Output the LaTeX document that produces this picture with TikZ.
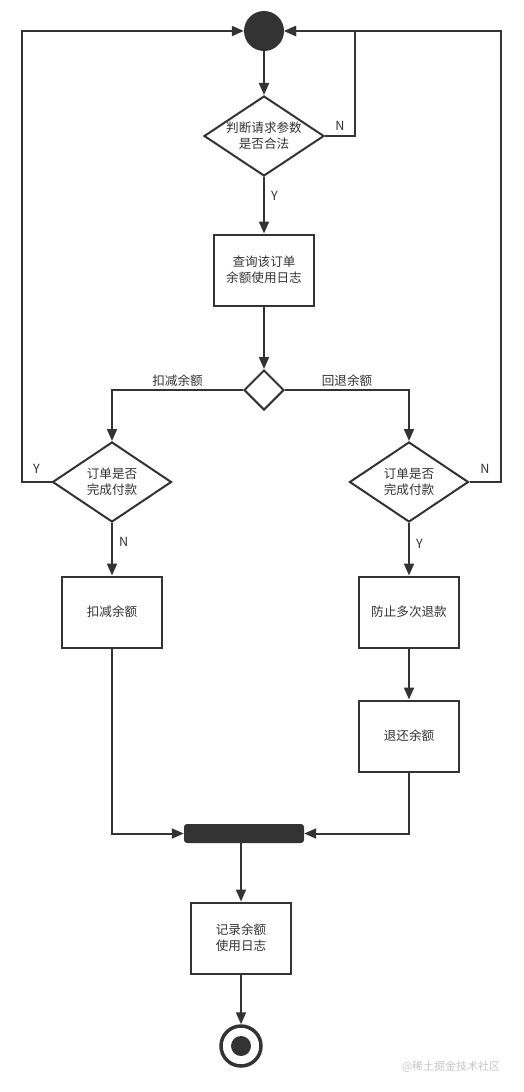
\documentclass[tikz,border=0pt]{standalone}
\usepackage{fontspec}
\setmainfont{Noto Sans CJK SC}
\usetikzlibrary{arrows.meta,shapes.geometric}
\definecolor{ink}{HTML}{333333}

\begin{document}
\begin{tikzpicture}[
x=1pt, y=-1pt,
font=\fontsize{12.6}{16}\selectfont,
flow/.style={draw=ink, line width=2pt, -{Triangle[length=12pt,width=10pt]}},
activity/.style={draw=ink, line width=2pt, minimum width=100pt, minimum height=71pt, align=center, text=ink},
decision/.style={diamond, draw=ink, line width=2pt, inner sep=0pt, minimum width=120pt, minimum height=80pt},
tag/.style={text=ink, inner sep=2pt}
]
    % frame
    \useasboundingbox (0,0) rectangle (524,1092);

    % start and first check
    \node (start) [circle, fill=ink, minimum size=40pt, inner sep=0pt] at (264,31) {};
    \node (check) [decision, label={[tag, align=center]center:{判断请求参数\\是否合法}}] at (264,136) {};
    \node (query) [activity] at (264,270) {查询该订单\\余额使用日志};
    \node (split) [diamond, draw=ink, line width=2pt, minimum width=40pt, minimum height=40pt, inner sep=0pt] at (264,390) {};

    % the two branches
    \node (leftpay) [decision, minimum width=119pt, label={[tag, align=center]center:{订单是否\\完成付款}}] at (112,482) {};
    \node (rightpay) [decision, minimum width=119pt, label={[tag, align=center]center:{订单是否\\完成付款}}] at (409,482) {};
    \node (deduct) [activity] at (112,612) {扣减余额};
    \node (guard) [activity] at (409,612) {防止多次退款};
    \node (refund) [activity] at (409,736) {退还余额};

    % join and end
    \node (join) [fill=ink, rounded corners=3pt, minimum width=120pt, minimum height=19pt, inner sep=0pt] at (244,833.5) {};
    \node (record) [activity] at (241,938) {记录余额\\使用日志};
    \node (finish) [circle, draw=ink, line width=3.5pt, minimum size=40pt, inner sep=0pt] at (241,1046) {};
    \node (finishdot) [circle, fill=ink, minimum size=20pt, inner sep=0pt] at (finish) {};

    % connectors
    \draw[flow] (start) -- (check);
    \draw[flow] (check.east) -- node[tag, above=3pt] {N} ++(30,0) |- (start.east);
    \draw[flow] (check) -- node[tag, pos=0.33, right=4pt] {Y} (query);
    \draw[flow] (query) -- (split);
    \draw[flow] (split.west) -| node[tag, pos=0.25, above] {扣减余额} (leftpay.north);
    \draw[flow] (split.east) -| node[tag, pos=0.25, above] {回退余额} (rightpay.north);
    \draw[flow] (leftpay.west) -- node[tag, above=6pt] {Y} ++(-30,0) |- (start.west);
    \draw[flow] (rightpay.east) -- node[tag, above=6pt] {N} ++(31,0) |- (start.east);
    \draw[flow] (leftpay) -- node[tag, pos=0.35, right=4pt] {N} (deduct);
    \draw[flow] (rightpay) -- node[tag, pos=0.4, right=4pt] {Y} (guard);
    \draw[flow] (guard) -- (refund);
    \draw[flow] (deduct.south) |- (join.west);
    \draw[flow] (refund.south) |- (join.east);
    \draw[flow] (record.north |- join.south) -- (record.north);
    \draw[flow] (record) -- (finish);

    % watermark
    \node (mark) [text=gray!45, font=\fontsize{11}{13}\selectfont] at (451,1067) {@稀土掘金技术社区};
\end{tikzpicture}
\end{document}
